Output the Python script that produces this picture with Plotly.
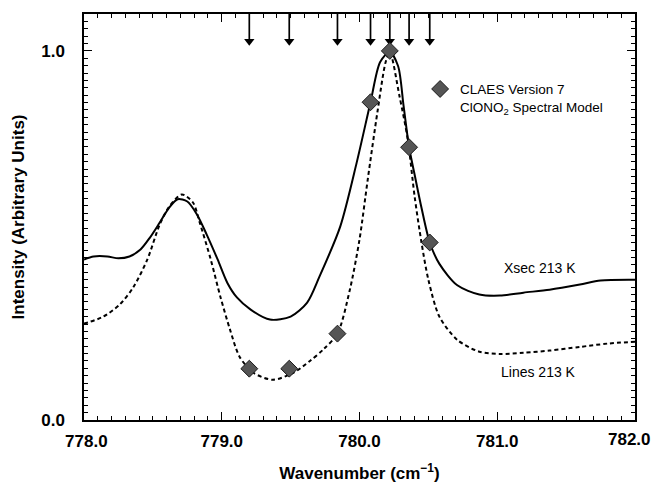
import plotly.graph_objects as go

# ---- data ----
xsec_wn = [778.00, 778.07, 778.17, 778.25, 778.33, 778.41, 778.48, 778.55, 778.62, 778.68,
           778.75, 778.82, 778.89, 778.97, 779.04, 779.11, 779.21, 779.35, 779.50, 779.62,
           779.71, 779.86, 779.98, 780.08, 780.15, 780.22, 780.28, 780.32, 780.36, 780.40,
           780.45, 780.51, 780.58, 780.71, 780.87, 781.02, 781.19, 781.38, 781.60, 781.75, 782.00]
xsec_val = [0.435, 0.443, 0.443, 0.438, 0.443, 0.462, 0.495, 0.535, 0.576, 0.598,
            0.592, 0.557, 0.503, 0.435, 0.372, 0.332, 0.299, 0.272, 0.280, 0.318,
            0.389, 0.524, 0.698, 0.861, 0.970, 0.997, 0.959, 0.851, 0.739, 0.665,
            0.575, 0.481, 0.423, 0.365, 0.340, 0.337, 0.345, 0.353, 0.367, 0.378, 0.380]

lines_wn = [778.00, 778.14, 778.26, 778.36, 778.46, 778.55, 778.62, 778.71, 778.79, 778.84,
            778.92, 778.99, 779.06, 779.13, 779.23, 779.37, 779.52, 779.64, 779.74, 779.84,
            779.93, 780.00, 780.06, 780.13, 780.19, 780.22, 780.29, 780.35, 780.40, 780.45,
            780.50, 780.58, 780.71, 780.87, 781.02, 781.19, 781.38, 781.60, 781.80, 782.00]
lines_val = [0.261, 0.280, 0.313, 0.361, 0.435, 0.530, 0.579, 0.611, 0.590, 0.535,
             0.435, 0.334, 0.245, 0.171, 0.128, 0.109, 0.128, 0.160, 0.192, 0.234,
             0.353, 0.489, 0.652, 0.834, 0.970, 0.997, 0.878, 0.761, 0.606, 0.481,
             0.380, 0.280, 0.217, 0.185, 0.179, 0.182, 0.188, 0.198, 0.207, 0.212]

model_wn = [779.20, 779.49, 779.84, 780.08, 780.22, 780.36, 780.51]
model_val = [0.139, 0.139, 0.234, 0.861, 1.000, 0.739, 0.481]

x_tick_vals = [778.0, 779.0, 780.0, 781.0]
x_tick_text = ["\u00a0778.0", "779.0", "780.0", "781.0"]
x_last_tick_val = 782.0
x_last_tick_text = "782.0"
y_tick_vals = [0.0, 1.0]
y_tick_text = ["0.0", "1.0"]

legend_name = "CLAES Version 7<br>ClONO<sub>2</sub> Spectral Model"
label_xsec = "Xsec 213 K"
label_lines = "Lines 213 K"

X_RANGE = [778.0, 782.0]
Y_RANGE = [0.0, 1.10]
ARROW_TOP = 1.10
ARROW_HEAD = 1.026

FONT = "Liberation Sans, Arial, Helvetica, sans-serif"

fig = go.Figure()

fig.add_trace(go.Scatter(x=xsec_wn, y=xsec_val, mode="lines",
                         line=dict(color="black", width=2, shape="spline", smoothing=0.8),
                         showlegend=False, hoverinfo="skip"))
fig.add_trace(go.Scatter(x=lines_wn, y=lines_val, mode="lines",
                         line=dict(color="black", width=2, dash="4px,3px", shape="spline", smoothing=0.8),
                         showlegend=False, hoverinfo="skip"))

# arrows above the model points
ax, ay = [], []
for w in model_wn:
    ax += [w, w, None]
    ay += [ARROW_TOP, ARROW_HEAD, None]
fig.add_trace(go.Scatter(x=ax, y=ay, mode="lines", line=dict(color="black", width=1.7),
                         showlegend=False, hoverinfo="skip"))
fig.add_trace(go.Scatter(x=model_wn, y=[ARROW_HEAD] * len(model_wn), mode="markers",
                         marker=dict(symbol="triangle-down", size=9, color="black"),
                         showlegend=False, hoverinfo="skip"))

fig.add_trace(go.Scatter(x=model_wn, y=model_val, mode="markers", name=legend_name,
                         marker=dict(symbol="diamond", size=13, color="#555555",
                                     line=dict(color="#1a1a1a", width=1)),
                         showlegend=True))

fig.add_annotation(x=781.31, y=0.413, text=label_xsec, showarrow=False, xref="x", yref="y",
                   font=dict(family=FONT, size=14, color="black"))
fig.add_annotation(x=781.30, y=0.130, text=label_lines, showarrow=False, xref="x", yref="y",
                   font=dict(family=FONT, size=14, color="black"))
# last x tick label, pulled inside the page edge as in the reference
fig.add_annotation(x=x_last_tick_val, y=Y_RANGE[0], text=x_last_tick_text, showarrow=False,
                   xref="x", yref="y", xanchor="right", yanchor="middle", xshift=18, yshift=-19,
                   font=dict(family=FONT, size=17, color="black", weight="bold"))

axis_common = dict(showgrid=False, zeroline=False, showline=True, linecolor="black", linewidth=1.5,
                   mirror="allticks", ticks="inside", tickcolor="black", tickwidth=1.2, ticklen=8,
                   ticklabeloverflow="allow", automargin=False,
                   tickfont=dict(family=FONT, size=17, color="black", weight="bold"))

fig.update_xaxes(range=X_RANGE, tickvals=x_tick_vals, ticktext=x_tick_text, ticklabelstandoff=5,
                 minor=dict(dtick=0.1, ticks="inside", ticklen=4, tickcolor="black", tickwidth=1),
                 title=dict(text="Wavenumber (cm<sup>−1</sup>)", standoff=23,
                            font=dict(family=FONT, size=17, color="black", weight="bold")),
                 **axis_common)
fig.update_yaxes(range=Y_RANGE, tickvals=y_tick_vals, ticktext=y_tick_text, ticklabelstandoff=14,
                 minor=dict(dtick=0.02, tick0=0, ticks="inside", ticklen=4, tickcolor="black", tickwidth=1),
                 title=dict(text="Intensity (Arbitrary Units)", standoff=12,
                            font=dict(family=FONT, size=17, color="black", weight="bold")),
                 **axis_common)

fig.update_layout(
    width=654, height=483,
    margin=dict(l=84, r=19, t=14, b=63, autoexpand=False),
    paper_bgcolor="white", plot_bgcolor="white",
    font=dict(family=FONT, color="black"),
    legend=dict(x=0.61, y=0.853, xanchor="left", yanchor="top", bgcolor="rgba(0,0,0,0)",
                font=dict(family=FONT, size=13.5, color="black"), valign="top", itemwidth=30),
)

fig.write_html("out.html")
